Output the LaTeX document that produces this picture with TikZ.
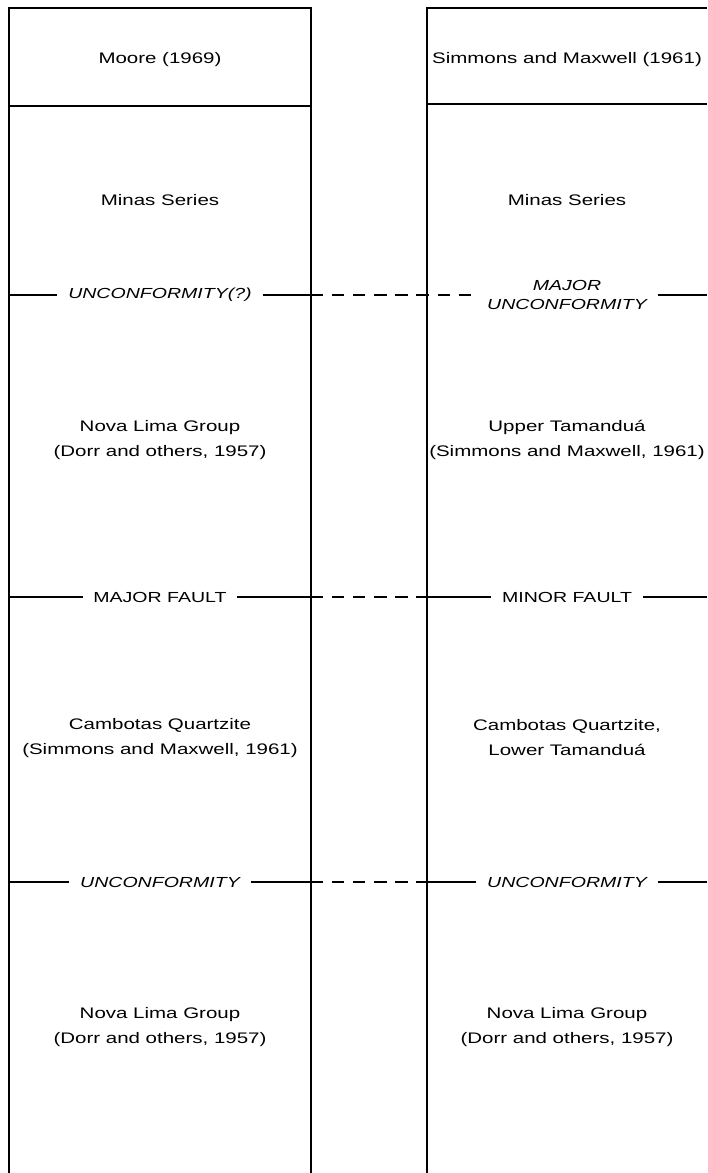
\documentclass[tikz,border=0pt]{standalone}
\usepackage{fontspec}
\setmainfont{Liberation Sans}[FakeStretch=1.34]
\usepackage{tikz}
\newcommand\unitfont{\fontsize{8.7}{14.2}\selectfont}
\newcommand\horfont{\fontsize{8.3}{11}\selectfont}
\begin{document}
\begin{tikzpicture}[x=.02cm,y=-.02cm,
    colline/.style={line width=.9pt},
    hline/.style={line width=.6pt},
    tieline/.style={line width=.6pt,dash pattern=on 7pt off 5pt},
    unit/.style={align=center,font=\unitfont,inner sep=1pt},
    horup/.style={align=center,font=\horfont,inner xsep=6pt,inner ysep=1pt},
    horit/.style={horup,font=\horfont\itshape}]
  \useasboundingbox (0,0) rectangle (707,1173);
  \draw[colline] (9,1173) -- (9,8) -- (311,8) -- (311,1173) (9,106) -- (311,106);
  \draw[colline] (427,1173) -- (427,8) -- (707,8) (427,104) -- (707,104);
  \node[unit] (moore) at (160,60) {Moore (1969)};
  \node[unit] (simmons) at (567,60) {Simmons and Maxwell (1961)};
  \foreach \x/\y/\nm/\txt in {160/200/minas-l/Minas Series,567/200/minas-r/Minas Series,
      160/440/nova-l/{Nova Lima Group\\(Dorr and others, 1957)},
      567/440/tam-r/{Upper Tamanduá\\(Simmons and Maxwell, 1961)},
      160/738/camb-l/{Cambotas Quartzite\\(Simmons and Maxwell, 1961)},
      567/738/camb-r/{Cambotas Quartzite,\\Lower Tamanduá},
      160/1027/base-l/{Nova Lima Group\\(Dorr and others, 1957)},
      567/1027/base-r/{Nova Lima Group\\(Dorr and others, 1957)}}
    \node[unit] (\nm) at (\x,\y) {\txt};
  \foreach \y/\hn/\hs/\lt/\rt in {295/unq/horit/UNCONFORMITY(?)/{MAJOR\\UNCONFORMITY},
      597/fault/horup/MAJOR FAULT/MINOR FAULT,882/unc/horit/UNCONFORMITY/UNCONFORMITY}{
    \node[\hs] (\hn-l) at (160,\y) {\lt};
    \node[\hs] (\hn-r) at (567,\y) {\rt};
    \coordinate (\hn-1) at (9,\y);
    \coordinate (\hn-2) at (311,\y);
    \coordinate (\hn-3) at (427,\y);
    \coordinate (\hn-4) at (707,\y);
    \draw[hline] (\hn-1) -- (\hn-l) (\hn-l) -- (\hn-2) (\hn-r) -- (\hn-4);}
  \draw[tieline] (unq-2) -- (unq-r);
  \foreach \hn in {fault,unc}{
    \draw[tieline] (\hn-2) -- (\hn-3);
    \draw[hline] (\hn-3) -- (\hn-r);}
\end{tikzpicture}
\end{document}
